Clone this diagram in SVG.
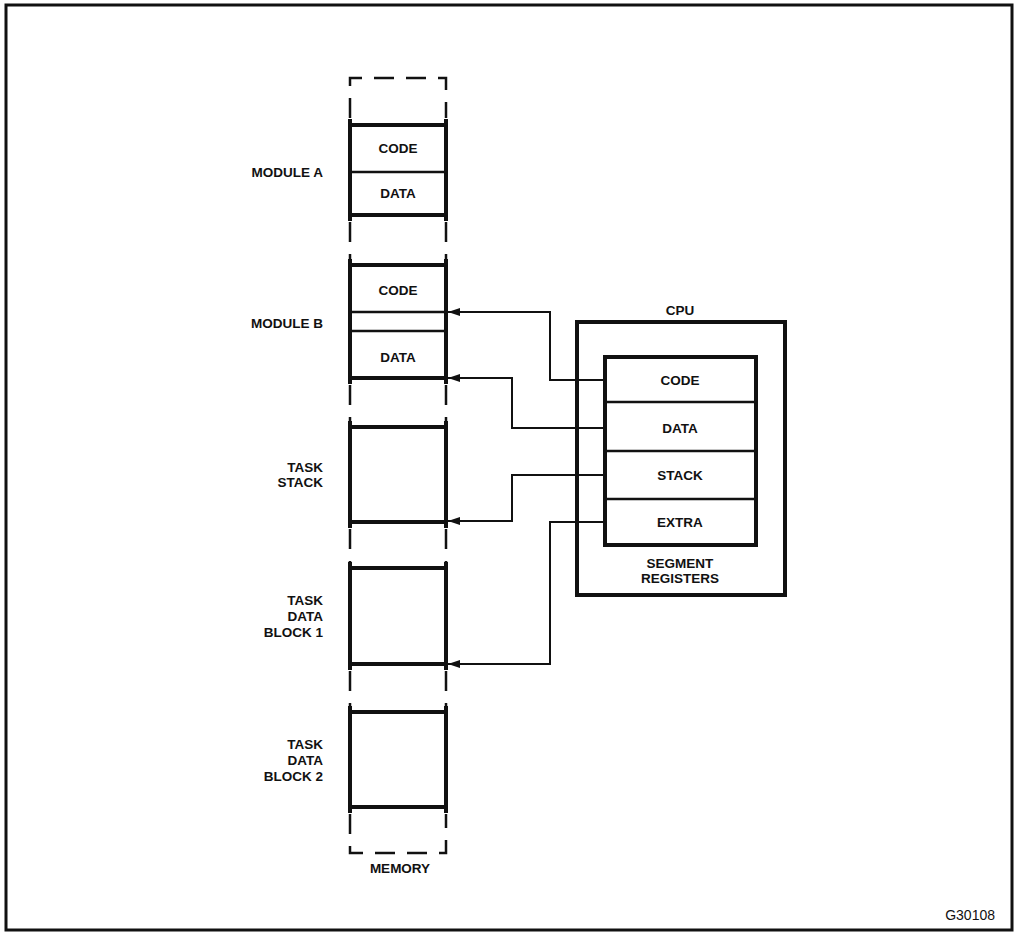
<svg xmlns="http://www.w3.org/2000/svg" width="1015" height="933" viewBox="0 0 1015 933">
<defs>
<style>
.t{font-family:"Liberation Sans",Arial,sans-serif;font-weight:bold;font-size:13.5px;fill:#111}
.l{text-anchor:end}
.c{text-anchor:middle}
.thick{fill:none;stroke:#111;stroke-width:4}
.div{stroke:#111;stroke-width:2.5}
.dash{fill:none;stroke:#111;stroke-width:2.5;stroke-dasharray:20 12}
.conn{fill:none;stroke:#111;stroke-width:2}
</style>
<marker id="ah" viewBox="0 0 12 8" refX="12" refY="4" markerWidth="12" markerHeight="8" markerUnits="userSpaceOnUse" orient="auto">
<path d="M0,0 L12,4 L0,8 Z" fill="#111"/>
</marker>
</defs>
<rect width="1015" height="933" fill="#fff"/>
<rect x="6" y="5" width="1006" height="925" fill="none" stroke="#111" stroke-width="3"/>

<g id="memory">
<path class="dash" d="M350,118 V78 H446 V118"/>
<path class="dash" d="M350,222 V260"/>
<path class="dash" d="M446,222 V260"/>
<path class="dash" d="M350,385 V422"/>
<path class="dash" d="M446,385 V422"/>
<path class="dash" d="M350,529 V563"/>
<path class="dash" d="M446,529 V563"/>
<path class="dash" d="M350,671 V707"/>
<path class="dash" d="M446,671 V707"/>
<path class="dash" d="M350,814 V853 H446 V814"/>
<text class="t c" x="400" y="873">MEMORY</text>
</g>

<g id="module-a">
<path class="thick" d="M350,119 V221 M446,119 V221 M350,125 H446 M350,215 H446"/>
<line class="div" x1="350" y1="172" x2="446" y2="172"/>
<text class="t c" x="398" y="153">CODE</text>
<text class="t c" x="398" y="198">DATA</text>
<text class="t l" x="323" y="177">MODULE A</text>
</g>

<g id="module-b">
<path class="thick" d="M350,259 V384 M446,259 V384 M350,265 H446 M350,378 H446"/>
<line class="div" x1="350" y1="312" x2="446" y2="312"/>
<line class="div" x1="350" y1="331" x2="446" y2="331"/>
<text class="t c" x="398" y="295">CODE</text>
<text class="t c" x="398" y="362">DATA</text>
<text class="t l" x="323" y="328">MODULE B</text>
</g>

<g id="task-stack">
<path class="thick" d="M350,421 V528 M446,421 V528 M350,427 H446 M350,522 H446"/>
<text class="t l" x="323" y="472">TASK</text>
<text class="t l" x="323" y="487">STACK</text>
</g>

<g id="task-data-1">
<path class="thick" d="M350,562 V670 M446,562 V670 M350,568 H446 M350,664 H446"/>
<text class="t l" x="323" y="605">TASK</text>
<text class="t l" x="323" y="621">DATA</text>
<text class="t l" x="323" y="637">BLOCK 1</text>
</g>

<g id="task-data-2">
<path class="thick" d="M350,706 V813 M446,706 V813 M350,712 H446 M350,807 H446"/>
<text class="t l" x="323" y="749">TASK</text>
<text class="t l" x="323" y="765">DATA</text>
<text class="t l" x="323" y="781">BLOCK 2</text>
</g>

<g id="cpu">
<rect class="thick" x="577" y="322" width="208" height="273"/>
<text class="t c" x="680" y="315">CPU</text>
</g>

<g id="connectors">
<path class="conn" d="M605,380 H550 V312 H448" marker-end="url(#ah)"/>
<path class="conn" d="M605,428 H512 V378 H448" marker-end="url(#ah)"/>
<path class="conn" d="M605,475 H512 V521 H448" marker-end="url(#ah)"/>
<path class="conn" d="M605,522 H550 V664 H448" marker-end="url(#ah)"/>
</g>

<g id="segment-registers">
<rect x="605" y="357" width="151" height="188" fill="#fff" stroke="none"/>
<rect class="thick" x="605" y="357" width="151" height="188"/>
<line class="div" x1="605" y1="402" x2="756" y2="402"/>
<line class="div" x1="605" y1="451" x2="756" y2="451"/>
<line class="div" x1="605" y1="499" x2="756" y2="499"/>
<text class="t c" x="680" y="385">CODE</text>
<text class="t c" x="680" y="433">DATA</text>
<text class="t c" x="680" y="480">STACK</text>
<text class="t c" x="680" y="527">EXTRA</text>
<text class="t c" x="680" y="568">SEGMENT</text>
<text class="t c" x="680" y="583">REGISTERS</text>
</g>

<text x="995" y="920" text-anchor="end" style="font-family:'Liberation Sans',Arial,sans-serif;font-size:14px;fill:#111">G30108</text>
</svg>
